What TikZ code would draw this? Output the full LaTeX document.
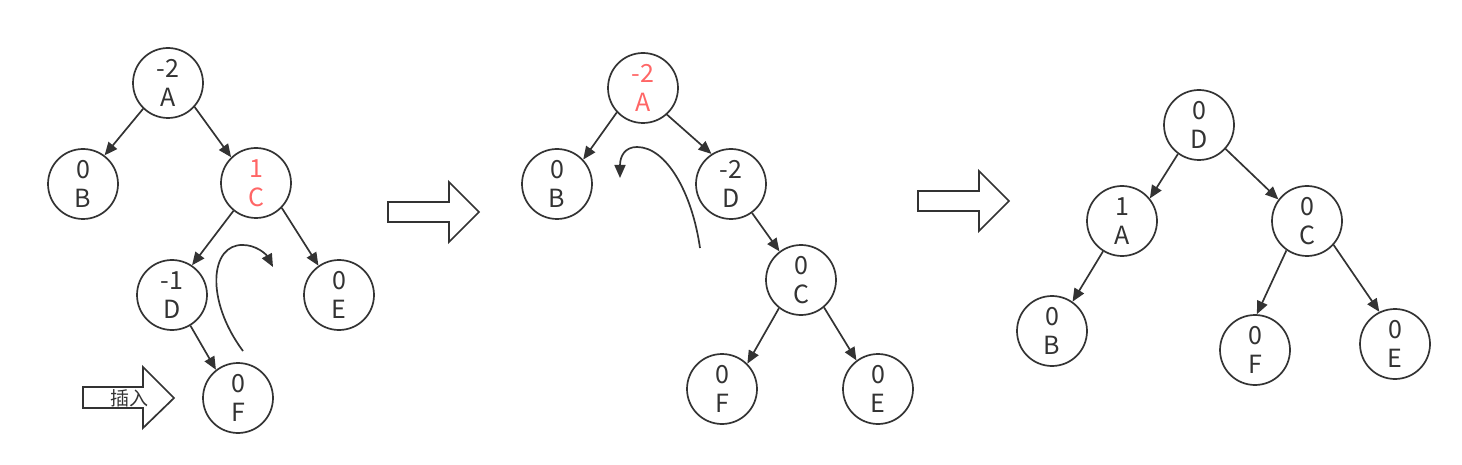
\documentclass[tikz,border=0pt]{standalone}
\usepackage{fontspec}
\setmainfont{Noto Sans CJK SC}
\usetikzlibrary{arrows.meta}
\definecolor{ink}{HTML}{333333}
\definecolor{hot}{HTML}{FF6666}
\begin{document}
\begin{tikzpicture}[x=1pt,y=1pt,
  avl/.style={circle, draw=ink, line width=1.7pt, minimum size=70pt, inner sep=0pt,
    align=center, text=ink, font=\fontsize{25}{29}\selectfont},
  hotnode/.style={avl, text=hot},
  link/.style={draw=ink, line width=1.7pt, -{Triangle[length=13pt,width=11pt]}},
  bigarrow/.style={draw=ink, line width=1.7pt, fill=white, line join=miter},
  swing/.style={draw=ink, line width=1.7pt, -{Triangle[length=13pt,width=11pt]}}
]
\useasboundingbox (0,0) rectangle (1462,-465);

% ---------- tree 1 ----------
\node[avl]     (a1) at (168,-83)  {-2\\A};
\node[avl]     (b1) at (83,-184)  {0\\B};
\node[hotnode] (c1) at (256,-183) {1\\C};
\node[avl]     (d1) at (172,-295) {-1\\D};
\node[avl]     (e1) at (339,-295) {0\\E};
\node[avl]     (f1) at (238,-398) {0\\F};
\draw[link] (a1.226) -- (b1.53);
\draw[link] (a1.318) -- (c1.134);
\draw[link] (c1.231) -- (d1.56);
\draw[link] (c1.316) -- (e1.125);
\draw[link] (d1.301) -- (f1.128);

% insert arrow
\draw[bigarrow] (83,-387) -- (143,-387) -- (143,-367) -- (174,-398) -- (143,-428) -- (143,-408) -- (83,-408) -- cycle;
\node[text=ink, font=\fontsize{19}{22}\selectfont, inner sep=0pt] (ins) at (129,-398) {插入};

% rotation curve 1
\coordinate (s1) at (243,-351);
\coordinate (m1) at (243,-245);
\coordinate (t1) at (273,-267);
\draw[swing] (s1) .. controls (205,-300) and (210,-244) .. (m1) .. controls (256,-245) and (266,-254) .. (t1);

% big arrow 1
\draw[bigarrow] (388,-202) -- (449,-202) -- (449,-182) -- (479,-212) -- (449,-242) -- (449,-222) -- (388,-222) -- cycle;

% ---------- tree 2 ----------
\node[hotnode] (a2) at (643,-88)  {-2\\A};
\node[avl]     (b2) at (557,-184) {0\\B};
\node[avl]     (d2) at (731,-184) {-2\\D};
\node[avl]     (c2) at (801,-280) {0\\C};
\node[avl]     (f2) at (722,-389) {0\\F};
\node[avl]     (e2) at (878,-389) {0\\E};
\draw[link] (a2.223) -- (b2.43);
\draw[link] (a2.312) -- (d2.123);
\draw[link] (d2.306) -- (c2.127);
\draw[link] (c2.232) -- (f2.45);
\draw[link] (c2.310) -- (e2.127);

% rotation curve 2
\coordinate (s2) at (700,-248);
\coordinate (m2) at (637,-147);
\coordinate (t2) at (620,-178);
\draw[swing] (s2) .. controls (692,-192) and (666,-147) .. (m2) .. controls (625,-147) and (620,-156) .. (t2);

% big arrow 2
\draw[bigarrow] (918,-191) -- (979,-191) -- (979,-171) -- (1009,-201) -- (979,-231) -- (979,-211) -- (918,-211) -- cycle;

% ---------- tree 3 ----------
\node[avl] (d3) at (1199,-125) {0\\D};
\node[avl] (a3) at (1122,-221) {1\\A};
\node[avl] (c3) at (1307,-221) {0\\C};
\node[avl] (b3) at (1052,-331) {0\\B};
\node[avl] (f3) at (1255,-350) {0\\F};
\node[avl] (e3) at (1395,-344) {0\\E};
\draw[link] (d3.234) -- (a3.39);
\draw[link] (d3.318) -- (c3.143);
\draw[link] (a3.238) -- (b3.55);
\draw[link] (c3.235) -- (f3.87);
\draw[link] (c3.318) -- (e3.116);
\end{tikzpicture}
\end{document}
